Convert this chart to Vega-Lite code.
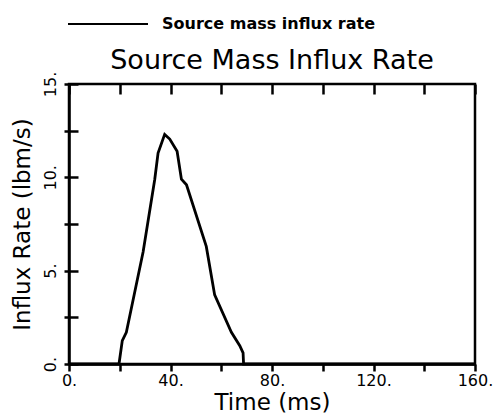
{
  "$schema": "https://vega.github.io/schema/vega-lite/v6.json",
  "width": 406,
  "height": 280,
  "autosize": {"type": "none"},
  "padding": {"left": 69, "top": 84, "right": 18, "bottom": 55},
  "background": "white",
  "config": {
    "font": "DejaVu Sans",
    "view": {"stroke": "black", "strokeWidth": 2.5}
  },
  "title": {
    "text": "Source Mass Influx Rate",
    "fontSize": 27,
    "fontWeight": "normal",
    "color": "black",
    "anchor": "middle",
    "frame": "group",
    "baseline": "alphabetic",
    "offset": -113
  },
  "data": {
    "values": [
      {"time": 0, "rate": 0, "series": "Source mass influx rate"},
      {"time": 19.7, "rate": 0, "series": "Source mass influx rate"},
      {"time": 21.0, "rate": 1.25, "series": "Source mass influx rate"},
      {"time": 22.6, "rate": 1.7, "series": "Source mass influx rate"},
      {"time": 29.2, "rate": 6.0, "series": "Source mass influx rate"},
      {"time": 33.8, "rate": 9.9, "series": "Source mass influx rate"},
      {"time": 35.1, "rate": 11.3, "series": "Source mass influx rate"},
      {"time": 37.7, "rate": 12.3, "series": "Source mass influx rate"},
      {"time": 39.7, "rate": 12.05, "series": "Source mass influx rate"},
      {"time": 42.6, "rate": 11.4, "series": "Source mass influx rate"},
      {"time": 44.3, "rate": 9.9, "series": "Source mass influx rate"},
      {"time": 46.3, "rate": 9.6, "series": "Source mass influx rate"},
      {"time": 54.1, "rate": 6.3, "series": "Source mass influx rate"},
      {"time": 57.4, "rate": 3.7, "series": "Source mass influx rate"},
      {"time": 64.0, "rate": 1.7, "series": "Source mass influx rate"},
      {"time": 67.3, "rate": 0.98, "series": "Source mass influx rate"},
      {"time": 68.6, "rate": 0.6, "series": "Source mass influx rate"},
      {"time": 68.8, "rate": 0, "series": "Source mass influx rate"},
      {"time": 160, "rate": 0, "series": "Source mass influx rate"}
    ]
  },
  "mark": {"type": "line", "strokeWidth": 2.8, "interpolate": "linear"},
  "encoding": {
    "x": {
      "field": "time",
      "type": "quantitative",
      "scale": {"domain": [0, 160], "nice": false, "zero": false},
      "axis": {
        "values": [0, 20, 40, 60, 80, 100, 120, 140, 160],
        "labelExpr": "datum.value % 40 == 0 ? datum.value + '.' : ''",
        "labelFontSize": 16,
        "labelColor": "black",
        "labelFlush": false,
        "labelOverlap": false,
        "labelPadding": 1,
        "tickSize": 7,
        "tickWidth": 2.5,
        "tickColor": "black",
        "domainColor": "black",
        "domainWidth": 2.5,
        "grid": true,
        "gridColor": "black",
        "gridOpacity": 1,
        "gridWidth": 2.5,
        "gridDash": [10, 1000],
        "title": "Time (ms)",
        "titleFontSize": 23,
        "titleFontWeight": "normal",
        "titleColor": "black",
        "titlePadding": 3
      }
    },
    "y": {
      "field": "rate",
      "type": "quantitative",
      "scale": {"domain": [0, 15], "nice": false},
      "axis": {
        "values": [0, 2.5, 5, 7.5, 10, 12.5, 15],
        "labelExpr": "datum.value % 5 == 0 ? datum.value + '.' : ''",
        "labelAngle": -90,
        "labelAlign": "center",
        "labelBaseline": "bottom",
        "labelFontSize": 16,
        "labelColor": "black",
        "labelFlush": false,
        "labelOverlap": false,
        "labelPadding": 6,
        "tickSize": 5,
        "tickWidth": 2.5,
        "tickColor": "black",
        "domainColor": "black",
        "domainWidth": 2.5,
        "grid": true,
        "gridColor": "black",
        "gridOpacity": 1,
        "gridWidth": 2.5,
        "gridDash": [9, 1000],
        "title": "Influx Rate (lbm/s)",
        "titleFontSize": 23,
        "titleFontWeight": "normal",
        "titleColor": "black",
        "titlePadding": 8
      }
    },
    "color": {
      "field": "series",
      "type": "nominal",
      "scale": {"range": ["black"]},
      "legend": {
        "orient": "none",
        "legendX": -2,
        "legendY": -101,
        "title": null,
        "padding": 0,
        "symbolType": "stroke",
        "symbolSize": 6400,
        "symbolStrokeWidth": 2,
        "symbolOffset": 0,
        "labelOffset": 13,
        "labelFontSize": 16,
        "labelFontWeight": "bold",
        "labelColor": "black",
        "labelLimit": 400
      }
    }
  }
}
